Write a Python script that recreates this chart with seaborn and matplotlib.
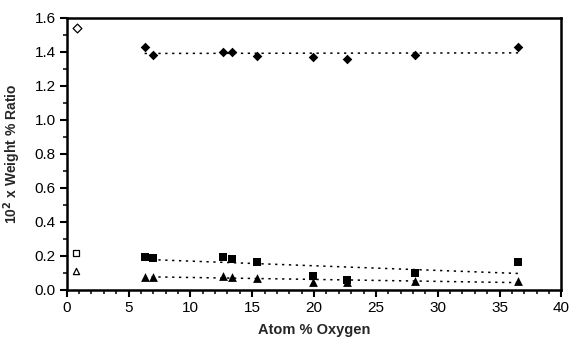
import numpy as np
import matplotlib
matplotlib.use("Agg")
import matplotlib.pyplot as plt
import seaborn as sns
from matplotlib.ticker import MultipleLocator

# data
oxygen = [6.3, 7.0, 12.6, 13.4, 15.4, 19.9, 22.7, 28.2, 36.5]
diamond = [1.428, 1.384, 1.398, 1.402, 1.373, 1.369, 1.361, 1.384, 1.431]
square = [0.194, 0.190, 0.194, 0.184, 0.163, 0.082, 0.059, 0.098, 0.167]
triangle = [0.078, 0.078, 0.080, 0.075, 0.069, 0.049, 0.045, 0.053, 0.053]

ref_x = [0.85, 0.75, 0.75]
ref_y = [1.539, 0.22, 0.11]
ref_marker = ["D", "s", "^"]

sns.set_style("ticks")
plt.rcParams["font.family"] = ["Liberation Sans", "DejaVu Sans"]

fig = plt.figure(figsize=(5.7, 3.44), dpi=100)
ax = fig.add_axes([0.117, 0.157, 0.868, 0.791])

# filled series with dotted linear fits
for vals, mk, ms in [(diamond, "D", 24), (square, "s", 36), (triangle, "^", 40)]:
    sns.regplot(x=oxygen, y=vals, ax=ax, ci=None, truncate=True,
                marker=mk, color="black",
                scatter_kws=dict(s=ms, linewidths=0, alpha=1),
                line_kws=dict(linestyle=(0, (1.5, 3)), linewidth=1.1))

# open reference points
for xv, yv, mk in zip(ref_x, ref_y, ref_marker):
    ax.scatter([xv], [yv], marker=mk, s=20, facecolors="white",
               edgecolors="black", linewidths=0.9, zorder=3)

ax.set_xlim(0, 40)
ax.set_ylim(0, 1.6)
ax.xaxis.set_major_locator(MultipleLocator(5))
ax.xaxis.set_minor_locator(MultipleLocator(1))
ax.yaxis.set_major_locator(MultipleLocator(0.2))
ax.yaxis.set_minor_locator(MultipleLocator(0.1))
ax.yaxis.set_major_formatter(matplotlib.ticker.FormatStrFormatter("%.1f"))

for s in ax.spines.values():
    s.set_visible(True)
    s.set_linewidth(1.8)
    s.set_color("black")
ax.tick_params(which="major", direction="out", length=5, width=1.5,
               labelsize=11, colors="black", pad=3)
ax.tick_params(which="minor", direction="out", length=3, width=1.3)

ax.set_xlabel("Atom % Oxygen", fontsize=10.5, fontweight="bold", labelpad=6)
ax.set_ylabel(r"10$^\mathbf{2}$ x Weight % Ratio", fontsize=10,
              fontweight="bold", labelpad=8)

fig.savefig("out.png", dpi=100)
